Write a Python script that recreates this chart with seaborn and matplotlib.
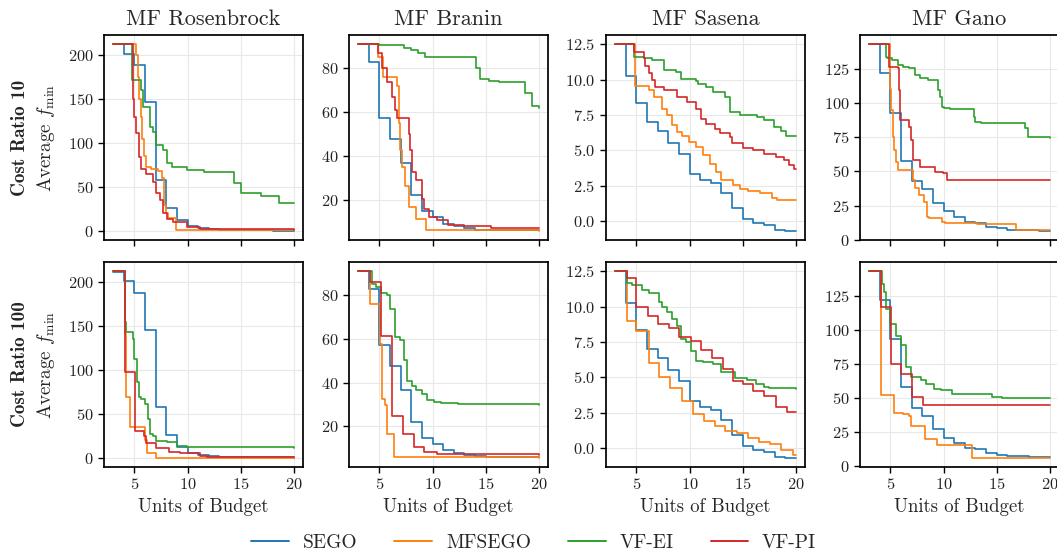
import matplotlib
matplotlib.use("Agg")
import matplotlib.pyplot as plt
from matplotlib.lines import Line2D
from matplotlib.ticker import MultipleLocator
import seaborn as sns
import pandas as pd

methods = ["SEGO", "MFSEGO", "VF-EI", "VF-PI"]
colors = ["#1f77b4", "#ff7f0e", "#2ca02c", "#d62728"]
functions = ["MF Rosenbrock", "MF Branin", "MF Sasena", "MF Gano"]
cost_ratios = [10, 100]

# SEGO only uses high fidelity, so it is the same curve for both cost ratios
sego_x = [3, 4, 5, 6, 7, 8, 9, 10, 11, 12, 13, 14, 15, 16, 17, 18, 19, 20]
sego_rosenbrock = [212, 201.5, 188, 146, 58.5, 26.6, 13, 5.7, 3.5, 2.0, 1.5, 1.2, 1.0, 0.9, 0.8, 0.7, 0.6, 0.5]
sego_branin = [91, 82.7, 57.3, 47.8, 36.8, 22, 14.7, 12, 9, 7.8, 6.9, 6.3, 6.2, 6.1, 6.0, 6.0, 6.0, 6.0]
sego_sasena = [12.5, 10.24, 8.37, 7.0, 6.38, 5.55, 4.75, 3.32, 2.94, 2.7, 2.0, 0.96, 0.14, -0.16, -0.28, -0.62, -0.67, -0.67]
sego_gano = [142.8, 122, 93, 58, 43, 37, 27.3, 20.8, 17, 13.4, 12.4, 9.8, 8.4, 7.6, 7.2, 7.0, 6.9, 6.8]

# ---- cost ratio 10 ----
r10_rosen_mfsego_x = [3, 5.2, 5.3, 5.45, 5.6, 5.75, 5.9, 6.05, 6.6, 7.2, 7.6, 7.75, 8.0, 8.2, 8.95, 20]
r10_rosen_mfsego_y = [212, 200, 175, 150, 130, 105, 85, 73, 71, 68, 60, 30, 20, 15, 1.2, 1.2]
r10_rosen_vfei_x = [3, 4.78, 5.64, 5.8, 6.43, 6.75, 7.07, 7.71, 8.03, 8.5, 9.94, 11.5, 14.4, 15.05, 16.9, 18.55, 20]
r10_rosen_vfei_y = [212, 172, 160, 141, 118, 113, 98, 92, 77, 73, 69, 67, 55, 43, 40, 32, 32]
r10_rosen_vfpi_x = [3, 4.84, 4.92, 5.0, 5.16, 5.41, 5.64, 6.11, 6.75, 7.07, 7.39, 7.71, 8.03, 8.66, 9.94, 11.2, 20]
r10_rosen_vfpi_y = [212, 168, 150, 130, 111, 84, 71, 65, 56, 43, 35, 20, 14, 10, 4.5, 2.0, 1.0]

r10_branin_mfsego_x = [3, 4.9, 5.38, 6.7, 6.85, 6.95, 7.1, 7.4, 7.75, 8.4, 9.35, 20]
r10_branin_mfsego_y = [91, 85, 76, 72, 55, 42.6, 35, 26, 16.6, 11.3, 6.0, 5.8]
r10_branin_vfei_x = [3, 5.0, 7.29, 8.0, 8.68, 9.3, 9.76, 14.05, 14.5, 15.3, 16.2, 18.7, 19.3, 20]
r10_branin_vfei_y = [91, 90.5, 89.5, 88.4, 87, 85.3, 85, 80, 75, 74.4, 73.7, 68.9, 63, 62]
r10_branin_vfpi_x = [3, 4.9, 5.22, 5.7, 6.17, 6.49, 6.65, 7.8, 7.92, 8.08, 8.4, 9.03, 9.19, 9.67, 10.46, 11.41, 13.0, 15.5, 20]
r10_branin_vfpi_y = [91, 87, 80, 74, 67, 61, 57.4, 50, 42.6, 32.7, 28.9, 20.5, 15.9, 12, 10.5, 8.5, 7.8, 7.0, 6.8]

r10_sasena_mfsego_x = [3, 4.87, 6.15, 6.62, 7.42, 7.9, 8.38, 8.85, 9.33, 9.97, 10.6, 11.24, 11.88, 12.5, 13.0, 14.1, 14.75, 15.54, 16.66, 17.77, 18.25, 20]
r10_sasena_mfsego_y = [12.5, 9.53, 9.3, 8.8, 7.95, 7.5, 6.8, 6.3, 6.0, 5.6, 5.25, 4.66, 4.07, 3.48, 2.9, 2.54, 2.3, 2.14, 2.0, 1.67, 1.53, 1.5]
r10_sasena_vfei_x = [3, 4.75, 5.7, 6.5, 7.58, 8.7, 9.23, 10.6, 10.76, 11.56, 12.2, 13.3, 13.79, 14.75, 16.34, 16.97, 17.93, 18.57, 19.04, 20]
r10_sasena_vfei_y = [12.5, 11.6, 11.5, 11.36, 10.7, 10.54, 10.07, 9.88, 9.67, 9.48, 9.13, 8.78, 7.72, 7.48, 7.36, 7.13, 6.66, 6.38, 6.02, 6.0]
r10_sasena_vfpi_x = [3, 4.75, 5.7, 5.86, 6.15, 6.5, 6.72, 7.58, 8.85, 9.8, 10.6, 11.08, 11.56, 12.36, 12.83, 13.79, 13.95, 15.06, 16.0, 16.97, 18.08, 18.88, 19.36, 19.84, 20]
r10_sasena_vfpi_y = [12.5, 11.95, 11.5, 11.0, 10.5, 9.95, 9.5, 9.25, 8.8, 8.4, 7.95, 7.25, 6.85, 6.54, 6.2, 5.95, 5.5, 5.18, 5.06, 4.73, 4.54, 4.35, 4.0, 3.7, 3.7]

r10_gano_mfsego_x = [3, 4.95, 5.06, 5.22, 5.38, 5.54, 5.7, 7.13, 7.32, 7.71, 8.18, 8.4, 8.66, 9.84, 10.16, 13.18, 16.85, 20]
r10_gano_mfsego_y = [142.8, 110, 95, 75, 65.7, 57, 51, 43.8, 37.7, 32.8, 28, 17, 15.8, 13.4, 12.2, 11.7, 7.0, 7.0]
r10_gano_vfei_x = [3, 4.55, 4.7, 5.16, 5.7, 6.18, 6.8, 7.29, 7.76, 8.56, 9.52, 9.68, 9.84, 10.0, 10.6, 12.83, 13.0, 13.5, 17.64, 17.96, 20]
r10_gano_vfei_y = [142.8, 133.8, 132.6, 131.4, 127.7, 126.5, 125.3, 120.4, 118, 116.8, 109.5, 104.6, 97.3, 96.1, 95.4, 90, 86.4, 85.2, 81.5, 75.4, 74.5]
r10_gano_vfpi_x = [3, 4.84, 5.7, 5.8, 5.92, 6.8, 6.97, 7.13, 7.76, 9.2, 9.98, 10.3, 20]
r10_gano_vfpi_y = [142.8, 126.5, 125.3, 109.5, 87.6, 82.7, 73, 58.4, 53.5, 49.9, 48.7, 43.5, 43.5]

# ---- cost ratio 100 ----
r100_rosen_mfsego_x = [3, 4.1, 4.25, 4.6, 5.96, 6.2, 7.07, 20]
r100_rosen_mfsego_y = [212.5, 141, 69, 35, 20, 5.7, 0.3, 0.3]
r100_rosen_vfei_x = [3, 4.1, 4.25, 4.84, 5.0, 5.22, 5.41, 5.64, 5.96, 6.27, 6.43, 6.75, 7.07, 8.03, 9.0, 9.94, 12.8, 20]
r100_rosen_vfei_y = [212.5, 154.8, 143.3, 135.7, 113, 86.3, 69.2, 67.3, 61.6, 44.5, 27.4, 25.5, 19.8, 17.9, 14, 12.9, 12.2, 11.4]
r100_rosen_vfpi_x = [3, 4.1, 5.1, 5.9, 6.1, 7.07, 8.28, 9.3, 11.2, 11.85, 20]
r100_rosen_vfpi_y = [212.5, 97.7, 31.2, 25.5, 16.7, 11.4, 6.5, 5.3, 2.7, 1.5, 1.0]

r100_branin_mfsego_x = [3, 4.1, 5.1, 5.25, 5.55, 5.7, 6.4, 20]
r100_branin_mfsego_y = [91, 76.2, 57.9, 32.7, 30, 16.6, 6.0, 5.7]
r100_branin_vfei_x = [3, 4.3, 4.71, 5.2, 5.7, 6.0, 6.5, 6.97, 7.29, 7.6, 8.08, 8.4, 9.03, 9.5, 10.14, 10.78, 12.37, 20]
r100_branin_vfei_y = [91, 85.3, 83.8, 81, 80, 73.9, 60.9, 59.7, 50.2, 41, 38.3, 36.5, 35, 31.9, 31.1, 30.7, 30.2, 29.9]
r100_branin_vfpi_x = [3, 4.1, 5.2, 6.17, 7.22, 8.24, 9.19, 10.46, 12.37, 20]
r100_branin_vfpi_y = [91, 86, 61.4, 24.7, 16.6, 10.5, 8.2, 7.5, 7.2, 6.9]

r100_sasena_mfsego_x = [3, 4.08, 5.0, 6.15, 7.1, 8.2, 9.33, 10.29, 11.4, 12.36, 13.31, 14.43, 15.54, 16.5, 17.6, 18.57, 19.68, 20]
r100_sasena_mfsego_y = [12.5, 8.96, 8.3, 6.0, 5.06, 4.26, 3.32, 2.42, 1.9, 1.6, 1.2, 1.06, 0.7, 0.42, 0.3, -0.16, -0.45, -0.45]
r100_sasena_vfei_x = [3, 4.1, 4.6, 5.5, 6.15, 7.1, 7.42, 7.9, 8.38, 8.85, 9.17, 9.65, 10.13, 10.6, 11.24, 12.2, 13.0, 14.3, 15.4, 16.2, 17.0, 17.5, 20]
r100_sasena_vfei_y = [12.5, 11.65, 11.55, 11.18, 10.96, 10.3, 9.95, 9.6, 9.13, 8.66, 7.72, 7.48, 6.89, 6.19, 6.07, 5.95, 5.36, 4.94, 4.82, 4.54, 4.35, 4.26, 4.2]
r100_sasena_vfpi_x = [3, 4.08, 5.0, 6.08, 7.0, 8.06, 9.01, 10.13, 11.08, 12.13, 13.15, 14.1, 15.06, 16.0, 16.97, 18.08, 19.14, 20]
r100_sasena_vfpi_y = [12.5, 12.0, 9.95, 9.36, 8.78, 8.47, 7.84, 7.55, 6.94, 6.38, 5.6, 4.73, 4.54, 4.07, 3.72, 2.94, 2.54, 2.54]

r100_gano_mfsego_x = [3, 4.1, 5.38, 6.18, 6.8, 6.97, 8.25, 9.36, 12.71, 20]
r100_gano_mfsego_y = [142.7, 52, 39, 38, 36.8, 29.3, 19.8, 15.4, 6.3, 6.3]
r100_gano_vfei_x = [3, 4.2, 4.45, 4.59, 5.0, 5.54, 5.96, 6.43, 6.9, 7.86, 8.34, 9.14, 9.78, 10.83, 14.55, 15.5, 20]
r100_gano_vfei_y = [142.7, 133.7, 127.6, 115.4, 104.4, 95.1, 88.5, 72.7, 65.4, 62.9, 60.5, 56.8, 55.6, 52.7, 50.7, 50.0, 50.0]
r100_gano_vfpi_x = [3, 4.1, 5.06, 6.02, 7.07, 8.09, 20]
r100_gano_vfpi_y = [142.7, 116.6, 75, 67.3, 50.7, 45.1, 45.1]

curves = {
    (10, "MF Rosenbrock"): [(sego_x, sego_rosenbrock), (r10_rosen_mfsego_x, r10_rosen_mfsego_y),
                            (r10_rosen_vfei_x, r10_rosen_vfei_y), (r10_rosen_vfpi_x, r10_rosen_vfpi_y)],
    (10, "MF Branin"): [(sego_x, sego_branin), (r10_branin_mfsego_x, r10_branin_mfsego_y),
                        (r10_branin_vfei_x, r10_branin_vfei_y), (r10_branin_vfpi_x, r10_branin_vfpi_y)],
    (10, "MF Sasena"): [(sego_x, sego_sasena), (r10_sasena_mfsego_x, r10_sasena_mfsego_y),
                        (r10_sasena_vfei_x, r10_sasena_vfei_y), (r10_sasena_vfpi_x, r10_sasena_vfpi_y)],
    (10, "MF Gano"): [(sego_x, sego_gano), (r10_gano_mfsego_x, r10_gano_mfsego_y),
                      (r10_gano_vfei_x, r10_gano_vfei_y), (r10_gano_vfpi_x, r10_gano_vfpi_y)],
    (100, "MF Rosenbrock"): [(sego_x, sego_rosenbrock), (r100_rosen_mfsego_x, r100_rosen_mfsego_y),
                             (r100_rosen_vfei_x, r100_rosen_vfei_y), (r100_rosen_vfpi_x, r100_rosen_vfpi_y)],
    (100, "MF Branin"): [(sego_x, sego_branin), (r100_branin_mfsego_x, r100_branin_mfsego_y),
                         (r100_branin_vfei_x, r100_branin_vfei_y), (r100_branin_vfpi_x, r100_branin_vfpi_y)],
    (100, "MF Sasena"): [(sego_x, sego_sasena), (r100_sasena_mfsego_x, r100_sasena_mfsego_y),
                         (r100_sasena_vfei_x, r100_sasena_vfei_y), (r100_sasena_vfpi_x, r100_sasena_vfpi_y)],
    (100, "MF Gano"): [(sego_x, sego_gano), (r100_gano_mfsego_x, r100_gano_mfsego_y),
                       (r100_gano_vfei_x, r100_gano_vfei_y), (r100_gano_vfpi_x, r100_gano_vfpi_y)],
}

rows = []
for (ratio, func), series in curves.items():
    for method, (xs, ys) in zip(methods, series):
        for x, y in zip(xs, ys):
            rows.append({"ratio": ratio, "function": func, "method": method, "budget": x, "fmin": y})
df = pd.DataFrame(rows)

sns.set_style("ticks", {"axes.grid": True, "grid.color": "#e8e8e8", "axes.edgecolor": "black"})
plt.rcParams["font.family"] = ["cmr10"]
plt.rcParams["mathtext.fontset"] = "cm"
plt.rcParams["axes.formatter.use_mathtext"] = True
plt.rcParams["axes.unicode_minus"] = False

W, H = 1057, 559
fig, axes = plt.subplots(2, 4, figsize=(W / 100, H / 100), dpi=100, sharex=True)

col_left = [104, 349, 606, 860]
row_top = [35, 262]
ax_w, ax_h = 199, 205
tick_step = [50, 20, 2.5, 25]
palette = dict(zip(methods, colors))

for i, ratio in enumerate(cost_ratios):
    for j, func in enumerate(functions):
        ax = axes[i, j]
        ax.set_position([col_left[j] / W, 1 - (row_top[i] + ax_h) / H, ax_w / W, ax_h / H])
        sub = df[(df["ratio"] == ratio) & (df["function"] == func)]
        sns.lineplot(data=sub, x="budget", y="fmin", hue="method", hue_order=methods,
                     palette=palette, drawstyle="steps-post", errorbar=None,
                     linewidth=1.2, legend=False, ax=ax)
        ax.xaxis.set_major_locator(MultipleLocator(5))
        ax.yaxis.set_major_locator(MultipleLocator(tick_step[j]))
        ax.tick_params(labelsize=11.8, labelcolor="#222222", color="black", length=4, width=1)
        for s in ax.spines.values():
            s.set_linewidth(1.25)
            s.set_color("black")
        ax.set_xlabel("Units of Budget" if i == 1 else "", fontsize=13.5, labelpad=4)
        if j == 0:
            ax.set_ylabel("Average $f_{\\min}$", fontsize=13.8, labelpad=8)
            # bold row label, in the bold Computer Modern face
            fig.text(20 / W, 1 - (row_top[i] + ax_h / 2) / H, f"Cost Ratio {ratio}",
                     rotation=90, ha="center", va="center", fontsize=13.8, fontfamily="cmb10")
        else:
            ax.set_ylabel("")
        if i == 0:
            ax.set_title(func, fontsize=16, pad=7)

handles = [Line2D([], [], color=c, lw=1.4) for c in colors]
fig.legend(handles, methods, loc="lower center", bbox_to_anchor=(0.505, -0.018), ncol=4,
           frameon=False, fontsize=14, handlelength=1.95, handletextpad=0.7, columnspacing=1.9)

fig.savefig("out.png", dpi=100)
